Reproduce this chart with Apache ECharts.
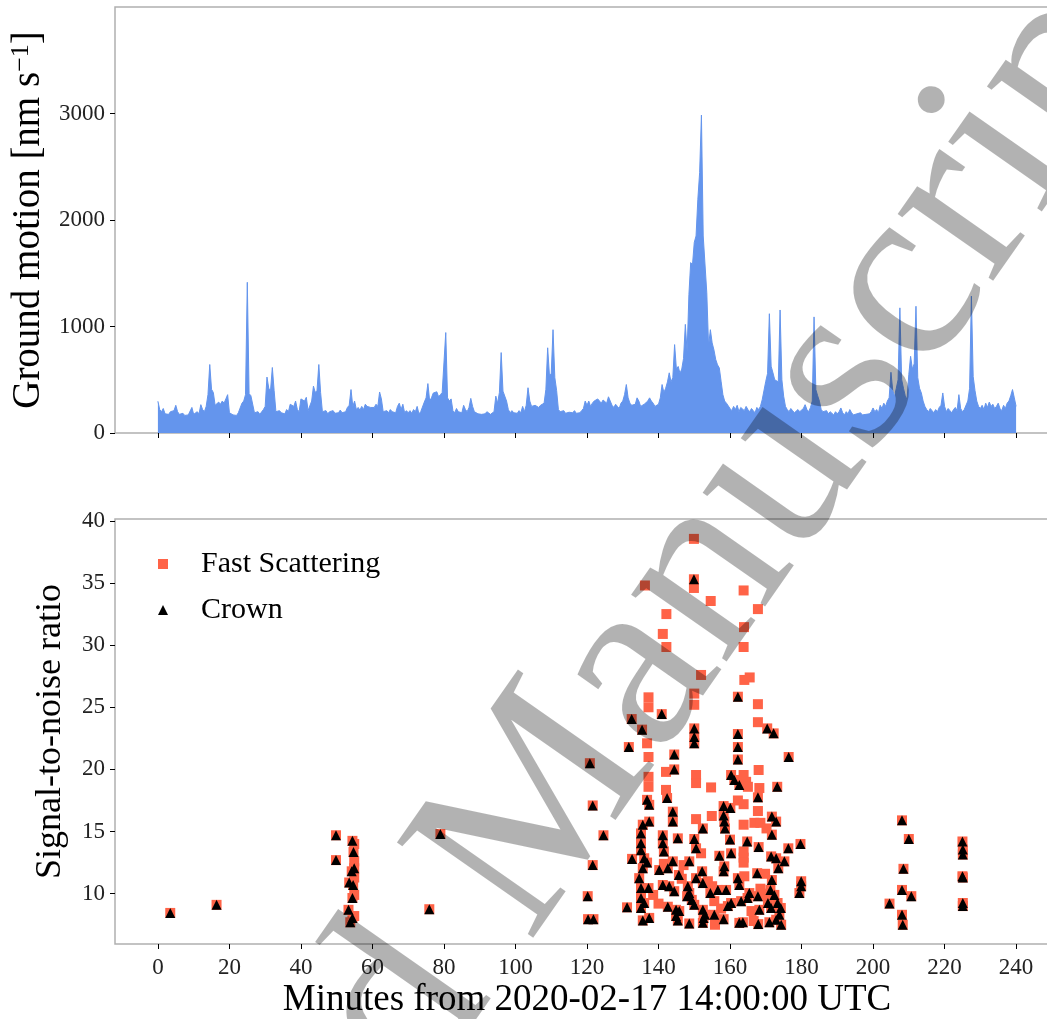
<!DOCTYPE html>
<html>
<head>
<meta charset="utf-8">
<script src="https://cdn.jsdelivr.net/npm/echarts@6.0.0/dist/echarts.min.js"></script>
<style>
  html, body { margin: 0; padding: 0; background: #fff; }
  #chart { width: 1047px; height: 1019px; }
</style>
</head>
<body>
<div id="chart"></div>
<script>
// ----------------------
// Dados
// ----------------------
const xTicks = [0, 20, 40, 60, 80, 100, 120, 140, 160, 180, 200, 220, 240];
const gmTicks = [0, 1000, 2000, 3000];
const snrTicks = [10, 15, 20, 25, 30, 35, 40];

// movimento do solo, uma amostra a cada 0.5 min (0 .. 240)
const gmStep = 0.5;
const gmValues = [
  298, 220, 200, 230, 180, 190, 175, 200, 185, 210, 260, 200, 175, 160, 185, 165, 150, 170, 185, 240,
  175, 165, 200, 180, 266, 220, 200, 250, 360, 643, 410, 380, 260, 250, 290, 270, 300, 280, 320, 360,
  190, 175, 170, 180, 165, 190, 175, 280, 300, 360, 1415, 370, 350, 345, 190, 180, 200, 175, 190, 220,
  250, 525, 420, 400, 615, 400, 200, 185, 210, 190, 205, 180, 220, 200, 270, 280, 250, 300, 220, 200,
  320, 330, 300, 335, 210, 220, 300, 440, 380, 400, 643, 380, 200, 190, 210, 180, 200, 195, 210, 185,
  200, 190, 215, 190, 180, 200, 240, 260, 408, 250, 300, 220, 240, 215, 250, 220, 270, 250, 260, 240,
  250, 240, 270, 250, 385, 320, 200, 190, 210, 190, 220, 200, 210, 190, 250, 280, 220, 270, 190, 210,
  190, 210, 185, 220, 200, 250, 180, 200, 190, 290, 330, 464, 300, 330, 375, 360, 387, 340, 360, 380,
  380, 943, 330, 300, 320, 210, 190, 230, 200, 215, 190, 260, 220, 200, 240, 325, 250, 200, 190, 180,
  190, 175, 185, 180, 200, 190, 175, 185, 200, 346, 280, 380, 755, 393, 376, 300, 220, 190, 210, 190,
  200, 185, 210, 190, 250, 200, 260, 425, 300, 250, 240, 260, 250, 240, 260, 250, 280, 410, 800, 540,
  560, 970, 520, 400, 220, 200, 190, 210, 185, 200, 195, 180, 190, 210, 185, 200, 190, 210, 230, 300,
  260, 300, 250, 280, 300, 290, 320, 300, 280, 310, 300, 280, 340, 300, 260, 240, 270, 250, 230, 280,
  300, 360, 455, 330, 280, 260, 250, 270, 330, 300, 250, 240, 270, 260, 300, 330, 300, 280, 250, 240,
  270, 330, 455, 380, 420, 480, 565, 480, 520, 830, 600, 625, 560, 600, 700, 1020, 760, 1300, 1600, 1580,
  1790, 1850, 2195, 2445, 2985, 1850, 1850, 1317, 815, 970, 846, 780, 690, 640, 611, 486, 360, 300, 280, 266,
  230, 210, 250, 220, 260, 200, 240, 230, 210, 250, 220, 200, 230, 210, 190, 240, 220, 250, 313, 330,
  486, 560, 1120, 627, 565, 500, 510, 480, 1155, 500, 345, 250, 220, 200, 230, 210, 190, 200, 220, 200,
  210, 230, 266, 220, 200, 240, 300, 1090, 407, 350, 298, 220, 200, 190, 210, 180, 200, 190, 170, 200,
  180, 200, 235, 190, 170, 200, 180, 220, 190, 170, 160, 180, 165, 190, 170, 160, 175, 165, 180, 200,
  235, 200, 220, 190, 260, 230, 280, 250, 300, 330, 570, 400, 345, 420, 500, 1175, 500, 420, 350, 313,
  550, 720, 600, 650, 1190, 520, 420, 376, 300, 250, 220, 200, 230, 210, 190, 220, 200, 240, 260, 376,
  250, 200, 230, 210, 190, 220, 240, 210, 360, 230, 200, 220, 210, 300, 420, 1285, 530, 400, 300, 250,
  230, 260, 220, 280, 240, 290, 250, 270, 230, 250, 280, 230, 210, 260, 230, 280, 300, 350, 408, 330,
  250
];

// eventos com Crown (todos também detectados como Fast Scattering)
const crownPts = [
  [3.45, 8.45], [16.4, 9.1], [49.8, 14.7], [49.8, 12.7],
  [54.4, 14.25], [54.7, 13.35], [54.9, 12.05], [54.2, 11.8], [53.5, 10.9], [54.6, 10.7], [54.4, 9.65], [53.3, 8.7], [54.4, 8.05], [53.8, 7.7],
  [75.9, 8.75], [79.0, 14.8],
  [120.8, 20.5], [121.6, 17.1], [124.6, 14.7], [121.6, 12.3], [120.2, 9.8], [120.3, 7.95], [121.8, 7.95],
  [131.2, 8.9], [132.6, 12.8], [131.7, 21.8], [132.5, 24.05], [135.4, 23.2],
  [149.9, 35.3], [140.9, 24.45], [162.2, 25.85], [170.4, 23.3], [172.2, 22.9], [162.2, 22.85],
  [150.0, 23.3], [150.0, 22.6], [150.0, 22.1], [162.2, 21.8], [144.4, 21.2], [176.4, 21.0], [162.2, 20.8],
  [144.4, 20.0], [160.3, 19.55], [161.2, 19.15], [162.6, 18.75], [173.2, 18.6], [142.4, 17.7], [136.8, 17.55], [137.4, 17.15], [167.8, 17.75],
  [158.2, 17.05], [160.1, 16.9], [144.0, 16.6], [144.0, 15.8], [158.2, 16.3], [158.4, 15.8], [158.6, 15.25], [171.7, 16.2], [172.9, 15.8],
  [135.6, 15.55], [137.4, 15.8], [152.4, 15.25],
  [135.1, 14.85], [135.1, 14.05], [135.1, 13.5], [141.2, 14.7], [141.2, 14.05], [141.5, 13.4], [145.4, 14.45], [150.0, 14.4], [150.5, 13.65],
  [160.0, 14.35], [164.8, 14.2], [171.7, 14.75], [168.0, 13.75], [176.3, 13.65], [179.7, 14.0],
  [136.8, 12.5], [136.0, 12.85], [144.0, 12.6], [148.6, 12.6], [157.0, 13.05], [160.3, 13.25], [171.5, 13.0], [172.9, 12.85], [175.2, 12.6],
  [135.6, 12.05], [140.2, 11.9], [142.6, 12.05], [158.4, 12.2], [158.2, 11.8], [173.5, 12.05], [152.2, 11.8], [150.5, 11.25], [145.7, 11.5],
  [134.6, 11.25], [162.2, 11.25], [167.6, 11.65], [171.7, 11.1],
  [179.9, 11.0], [179.9, 10.6], [179.4, 10.05], [141.2, 10.7], [143.0, 10.6], [144.4, 10.2], [135.1, 10.45], [137.2, 10.45], [148.2, 10.6],
  [148.6, 10.05], [152.4, 10.85], [156.6, 10.3], [158.9, 10.3], [154.5, 10.05], [162.6, 10.7], [165.4, 10.05], [167.8, 9.8], [171.3, 10.3], [172.4, 9.9],
  [135.1, 9.65], [136.0, 9.25], [135.1, 8.85], [142.6, 8.95], [144.9, 8.7], [145.8, 8.6], [148.0, 9.8], [149.3, 9.5], [150.0, 9.1], [152.4, 8.7],
  [153.0, 8.3], [155.6, 8.3], [159.4, 9.0], [160.3, 9.25], [163.1, 9.4], [164.9, 9.65], [168.2, 8.7], [170.6, 9.25], [171.5, 8.85], [173.3, 9.25],
  [174.2, 8.85], [173.8, 8.3],
  [204.6, 9.2], [135.6, 7.85], [137.4, 8.05], [145.4, 7.85], [144.9, 8.2], [148.6, 7.6], [152.4, 7.65], [152.6, 8.05], [158.2, 7.95], [162.6, 7.65],
  [163.6, 7.7], [167.9, 7.55], [171.0, 7.7], [172.9, 7.9], [174.3, 7.5],
  [208.1, 15.9], [210.0, 14.4], [208.5, 12.0], [208.1, 10.3], [210.7, 9.8], [208.1, 8.3], [208.3, 7.5],
  [225.0, 14.2], [225.1, 13.55], [225.1, 13.15], [225.0, 11.4], [225.1, 11.3], [225.1, 9.25], [225.1, 9.0]
];

// eventos só de Fast Scattering
const fastOnlyPts = [
  [149.9, 38.55], [149.9, 34.6], [136.2, 34.8], [154.6, 33.55], [163.8, 34.4], [167.8, 32.9], [142.2, 32.5], [163.9, 31.45], [141.2, 30.9],
  [142.2, 29.85], [163.8, 29.85], [151.9, 27.6], [164.0, 27.2], [165.5, 27.4], [137.2, 25.8], [137.2, 25.0], [150.0, 26.1], [150.0, 25.2],
  [167.8, 25.25], [167.8, 23.8], [136.8, 22.1], [137.2, 21.0], [168.0, 19.95], [142.1, 19.8], [150.5, 19.55], [150.5, 18.9], [137.2, 19.4],
  [137.2, 18.6], [163.8, 19.55], [164.5, 19.0], [165.0, 18.6], [154.7, 18.55], [168.2, 18.5], [142.1, 18.35], [162.2, 17.5], [163.8, 17.2],
  [167.8, 16.65], [150.5, 16.0], [154.9, 16.25], [163.8, 15.55], [166.8, 15.7], [168.5, 15.7], [170.2, 15.25], [151.9, 13.25], [163.8, 13.4],
  [163.8, 12.9], [163.8, 12.5], [54.9, 14.0], [54.9, 12.6], [54.9, 11.3], [54.9, 9.9], [54.9, 8.2], [155.6, 9.4], [155.0, 10.6], [155.8, 7.5],
  [166.6, 7.8], [166.0, 8.6], [168.5, 10.4], [141.5, 12.4], [146.5, 11.2], [140.0, 9.2], [153.8, 11.0], [169.8, 11.6], [170.0, 10.0],
  [157.5, 8.8], [147.0, 12.3], [164.0, 11.4], [138.5, 9.9]
];

// ----------------------
// Estilos
// ----------------------
const FONT = 'Liberation Serif';
const COLOR_BLUE = '#6495ED';
const COLOR_RED = '#FF6347';
const COLOR_SPINE = '#b0b0b0';

const gmData = gmValues.map((v, i) => [i * gmStep, v]);
const fastData = crownPts.concat(fastOnlyPts);

function xAxisBase(gridIndex, withLabels) {
  return {
    type: 'value', gridIndex, min: -12, max: 252,
    axisLine: { show: false, onZero: false },
    splitLine: { show: false },
    axisTick: { show: true, customValues: xTicks, length: 5, lineStyle: { color: '#000', width: 1 } },
    axisLabel: {
      show: withLabels, customValues: xTicks, margin: 12,
      fontFamily: FONT, fontSize: 23, color: '#222', formatter: v => String(v)
    }
  };
}

function yAxisBase(gridIndex, min, max, ticks) {
  return {
    type: 'value', gridIndex, min, max,
    axisLine: { show: false, onZero: false },
    splitLine: { show: false },
    axisTick: { show: true, customValues: ticks, length: 5, lineStyle: { color: '#000', width: 1 } },
    axisLabel: { customValues: ticks, margin: 10, fontFamily: FONT, fontSize: 23, color: '#222', formatter: v => String(v) }
  };
}

const chart = echarts.init(document.getElementById('chart'), null, { renderer: 'canvas' });
chart.setOption({
  animation: false,
  backgroundColor: '#fff',
  // o eixo continua além da borda direita da figura (recortada)
  grid: [
    { left: 115, top: 7, width: 944, height: 426, outerBoundsMode: 'none', show: true, borderColor: COLOR_SPINE, borderWidth: 1.5 },
    { left: 115, top: 519, width: 944, height: 425, outerBoundsMode: 'none', show: true, borderColor: COLOR_SPINE, borderWidth: 1.5 }
  ],
  xAxis: [
    xAxisBase(0, false),
    Object.assign(xAxisBase(1, true), {
      name: 'Minutes from 2020-02-17 14:00:00 UTC',
      nameLocation: 'middle', nameGap: 38,
      nameTextStyle: { fontFamily: FONT, fontSize: 37, color: '#000' }
    })
  ],
  yAxis: [
    Object.assign(yAxisBase(0, 0, 4000, gmTicks), {
      name: 'Ground motion [nm s{sup|−1}]',
      nameLocation: 'middle', nameRotate: 90, nameGap: 64,
      nameTextStyle: {
        fontFamily: FONT, fontSize: 39, color: '#000',
        rich: { sup: { fontFamily: FONT, fontSize: 26, color: '#000', verticalAlign: 'top', padding: [0, 0, 14, 0] } }
      }
    }),
    Object.assign(yAxisBase(1, 5.95, 40.15, snrTicks), {
      name: 'Signal-to-noise ratio',
      nameLocation: 'middle', nameRotate: 90, nameGap: 46,
      nameTextStyle: { fontFamily: FONT, fontSize: 36, color: '#000' }
    })
  ],
  legend: {
    orient: 'vertical', left: 153, top: 544,
    itemWidth: 10, itemHeight: 10, itemGap: 16,
    textStyle: { fontFamily: FONT, fontSize: 30, color: '#000', padding: [0, 0, 0, 28] },
    data: ['Fast Scattering', 'Crown']
  },
  series: [
    {
      type: 'line', xAxisIndex: 0, yAxisIndex: 0,
      data: gmData, showSymbol: false, sampling: 'none',
      lineStyle: { color: COLOR_BLUE, width: 1 },
      areaStyle: { color: COLOR_BLUE, opacity: 1 },
      silent: true
    },
    {
      name: 'Fast Scattering', type: 'scatter', xAxisIndex: 1, yAxisIndex: 1,
      data: fastData, symbol: 'rect', symbolSize: 10,
      itemStyle: { color: COLOR_RED, opacity: 1 }
    },
    {
      name: 'Crown', type: 'scatter', xAxisIndex: 1, yAxisIndex: 1,
      data: crownPts, symbol: 'triangle', symbolSize: 10,
      itemStyle: { color: '#000', opacity: 1 }
    }
  ],
  graphic: [
    {
      // marca d'água por cima de tudo
      type: 'text', x: -112, y: 1743, rotation: 55 * Math.PI / 180, z: 100, silent: true,
      style: {
        text: 'Accepted Manuscript', fontFamily: FONT, fontSize: 254,
        fill: 'rgba(0,0,0,0.3)', align: 'left', verticalAlign: 'middle'
      }
    }
  ]
});

window.addEventListener('resize', () => chart.resize());
</script>
</body>
</html>
